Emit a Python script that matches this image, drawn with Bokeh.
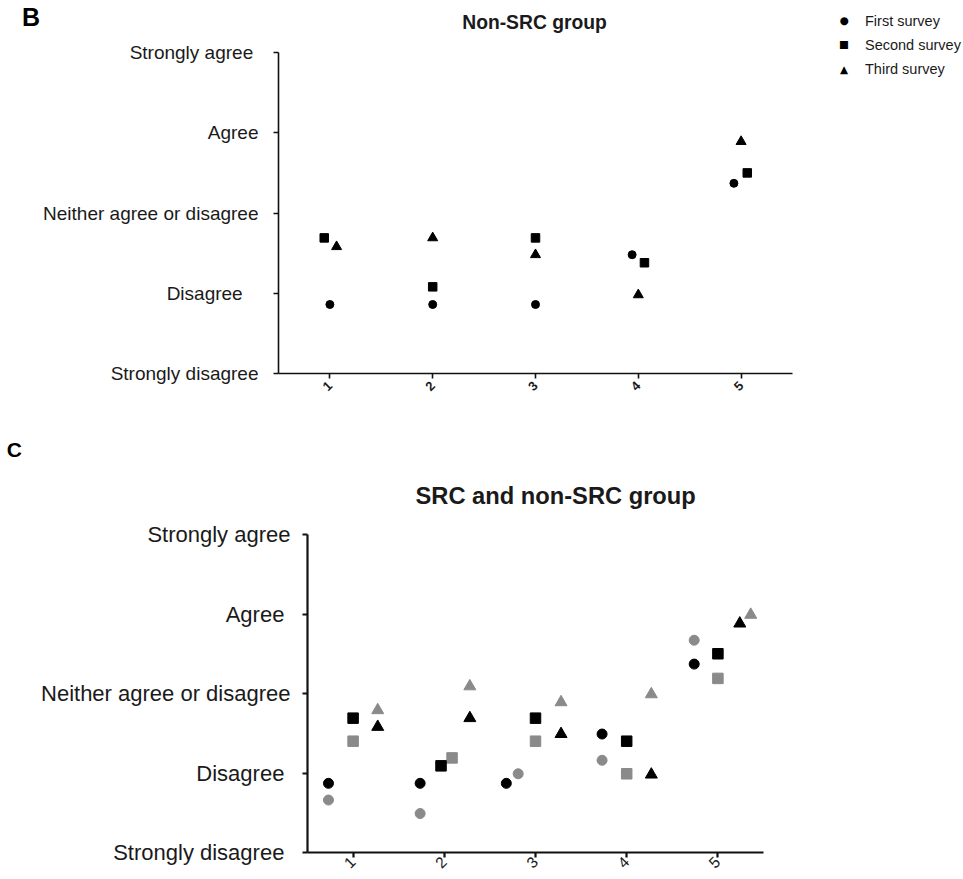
import numpy as np
from bokeh.plotting import figure
from bokeh.models import Range1d, FixedTicker, Label
from bokeh.core.enums import CoordinateUnits
from bokeh.embed import file_html
from bokeh.resources import INLINE

# ---------------- data ----------------
categories = [1, 2, 3, 4, 5]
cat_labels = ["1", "2", "3", "4", "5"]
likert_values = [1, 2, 3, 4, 5]
likert_B = ["Strongly disagree", "Disagree\u00a0\u00a0\u00a0", "Neither agree or disagree",
            "Agree", "Strongly agree\u00a0"]
likert_C = ["Strongly disagree\u00a0", "Disagree\u00a0", "Neither agree or disagree",
            "Agree\u00a0", "Strongly agree"]
survey_names = ["First survey", "Second survey", "Third survey"]
survey_symbols = ["\u25cf", "\u25a0", "\u25b2"]

# Panel B: non-SRC group
b_first = [1.86, 1.86, 1.86, 2.48, 3.37]
b_second = [2.69, 2.08, 2.69, 2.38, 3.50]
b_third = [2.58, 2.69, 2.48, 1.98, 3.89]
b_first_dodge = [0.0, 0.0, 0.0, -0.06, -0.07]
b_second_dodge = [-0.055, 0.0, 0.0, 0.06, 0.06]
b_third_dodge = [0.065, 0.0, 0.0, 0.0, 0.0]

# Panel C: non-SRC (black) and SRC (grey)
c_non_first = [1.87, 1.87, 1.87, 2.49, 3.37]
c_non_second = [2.69, 2.09, 2.69, 2.40, 3.50]
c_non_third = [2.58, 2.69, 2.49, 1.98, 3.88]
c_src_first = [1.66, 1.49, 1.99, 2.16, 3.67]
c_src_second = [2.40, 2.19, 2.40, 1.99, 3.19]
c_src_third = [2.79, 3.09, 2.89, 2.99, 3.99]
c_non_first_dodge = [-0.27, -0.265, -0.32, -0.27, -0.26]
c_src_first_dodge = [-0.27, -0.265, -0.19, -0.27, -0.26]
c_non_second_dodge = [0.0, -0.036, 0.0, 0.0, 0.0]
c_src_second_dodge = [0.0, 0.085, 0.0, 0.0, 0.0]
c_non_third_dodge = [0.27, 0.28, 0.28, 0.27, 0.24]
c_src_third_dodge = [0.27, 0.28, 0.28, 0.27, 0.36]

BLACK = "#000000"
GREY = "#8a8a8a"
TXT = "#1a1a1a"
FONT = "Liberation Sans"
UNITS = "canvas" if "canvas" in CoordinateUnits else "screen"


def xs(dodge):
    return list(np.array(categories, dtype=float) + np.array(dodge))


def style_axes(p, ylabels, yfont, xfont, xstyle, lw, ystand, xstand):
    p.grid.visible = False
    p.outline_line_color = None
    p.xaxis.ticker = FixedTicker(ticks=categories)
    p.xaxis.major_label_overrides = {c: l for c, l in zip(categories, cat_labels)}
    p.yaxis.ticker = FixedTicker(ticks=likert_values)
    p.yaxis.major_label_overrides = {v: l for v, l in zip(likert_values, ylabels)}
    for ax in (p.xaxis, p.yaxis):
        ax.axis_line_width = lw
        ax.axis_line_color = "#111111"
        ax.major_tick_line_width = lw
        ax.major_tick_line_color = "#111111"
        ax.major_tick_in = 0
        ax.major_tick_out = 5
        ax.minor_tick_line_color = None
        ax.major_label_text_font = FONT
        ax.major_label_text_color = TXT
    p.yaxis.major_label_text_font_size = yfont
    p.yaxis.major_label_standoff = ystand
    p.xaxis.major_label_text_font_size = xfont
    p.xaxis.major_label_text_font_style = xstyle
    p.xaxis.major_label_standoff = xstand
    p.xaxis.major_label_orientation = np.pi / 4


def canvas_label(p, place, x, y, text, size, align, style="bold", font=FONT, color=TXT,
                 baseline="alphabetic", line_height=1.2):
    p.add_layout(Label(x=x, y=y, x_units=UNITS, y_units=UNITS, text=text,
                       text_font=font, text_font_size=size, text_font_style=style,
                       text_color=color, text_align=align, text_baseline=baseline,
                       text_line_height=line_height),
                 place)


# ---------------- Panel B ----------------
pB = figure(width=963, height=400, x_range=Range1d(0.5, 5.5), y_range=Range1d(1, 5),
            output_backend="svg", toolbar_location=None,
            min_border_left=278, min_border_right=171, min_border_top=52, min_border_bottom=27)
style_axes(pB, likert_B, "19px", "13px", "bold", 1.6, 15, 5)

pB.scatter(xs(b_first_dodge), b_first, marker="circle", size=8, color=BLACK)
pB.scatter(xs(b_second_dodge), b_second, marker="square", size=8.5, color=BLACK)
pB.scatter(xs(b_third_dodge), b_third, marker="triangle", size=10, color=BLACK)

# legend (outside the plot area, top right): symbols + one multi-line label block
legend_rows_y = [20, 44.4, 69]
for sym, ly in zip(survey_symbols, legend_rows_y):
    canvas_label(pB, "right", 843.5, ly - 0.9, sym, "10.5px", "center", style="normal",
                 font="DejaVu Sans", color=BLACK)
canvas_label(pB, "right", 864.5, legend_rows_y[1], "\n".join(survey_names), "14.5px", "left",
             style="normal", baseline="middle", line_height=1.5)

canvas_label(pB, "above", 534, 22.4, "Non-SRC group", "19.3px", "center")
canvas_label(pB, "left", 21.5, 16.5, "B", "25px", "left", color=BLACK)

# ---------------- Panel C ----------------
pC = figure(width=963, height=478, x_range=Range1d(0.5, 5.5), y_range=Range1d(1, 5),
            output_backend="svg", toolbar_location=None,
            min_border_left=307, min_border_right=200, min_border_top=134, min_border_bottom=26)
style_axes(pC, likert_C, "22px", "15.5px", "normal", 2.2, 12, 2)

pC.scatter(xs(c_src_first_dodge), c_src_first, marker="circle", size=10, color=GREY)
pC.scatter(xs(c_src_second_dodge), c_src_second, marker="square", size=10.5, color=GREY)
pC.scatter(xs(c_src_third_dodge), c_src_third, marker="triangle", size=12, color=GREY)
pC.scatter(xs(c_non_first_dodge), c_non_first, marker="circle", size=10, color=BLACK)
pC.scatter(xs(c_non_second_dodge), c_non_second, marker="square", size=10.5, color=BLACK)
pC.scatter(xs(c_non_third_dodge), c_non_third, marker="triangle", size=12, color=BLACK)

canvas_label(pC, "above", 415, 95.0, "SRC and non-SRC group", "23.7px", "left")
canvas_label(pC, "left", 6.3, 48.5, "C", "21px", "left", color=BLACK)

open("out.html", "w").write(file_html([pB, pC], INLINE))
